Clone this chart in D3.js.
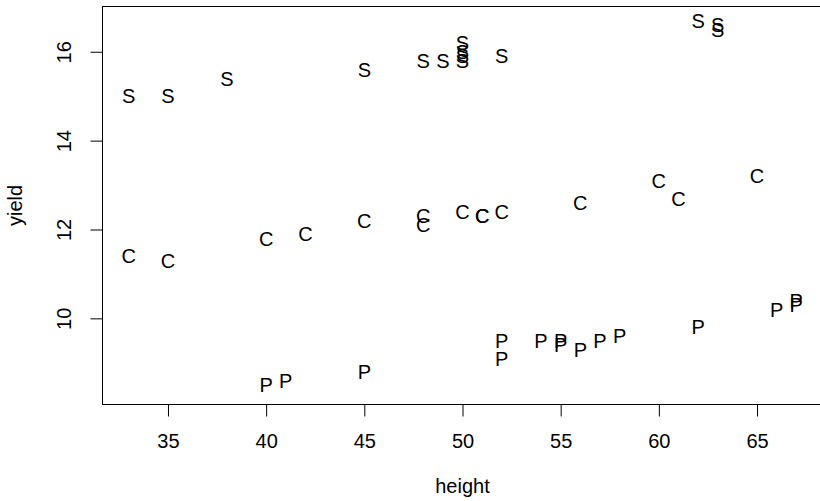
<!DOCTYPE html>
<html>
<head>
<meta charset="utf-8">
<script src="https://cdn.jsdelivr.net/npm/d3@7"></script>
<style>
  html, body { margin: 0; padding: 0; background: #fff; }
  svg { display: block; font-family: "Liberation Sans", Arial, Helvetica, sans-serif; }
</style>
</head>
<body>
<svg id="chart" width="820" height="501"></svg>
<script>
// Plant height vs yield, one letter per plot: S, C and P varieties
const sHeight = [33, 35, 38, 45, 48, 49, 50, 50, 50, 50, 52, 62, 63, 63];
const sYield  = [15.0, 15.0, 15.4, 15.6, 15.8, 15.8, 16.2, 16.0, 15.9, 15.8, 15.9, 16.7, 16.6, 16.5];

const cHeight = [33, 35, 40, 42, 45, 48, 48, 50, 51, 51, 52, 56, 60, 61, 65];
const cYield  = [11.4, 11.3, 11.8, 11.9, 12.2, 12.3, 12.1, 12.4, 12.3, 12.3, 12.4, 12.6, 13.1, 12.7, 13.2];

const pHeight = [40, 41, 45, 52, 52, 54, 55, 55, 56, 57, 58, 62, 66, 67, 67];
const pYield  = [8.5, 8.6, 8.8, 9.5, 9.1, 9.5, 9.5, 9.4, 9.3, 9.5, 9.6, 9.8, 10.2, 10.4, 10.3];

const groupLabels = ["S", "C", "P"];
const xTicks = [35, 40, 45, 50, 55, 60, 65];
const yTicks = [10, 12, 14, 16];
const xTitle = "height";
const yTitle = "yield";

// axis limits
const xLim = [31.64, 68.36];
const yLim = [8.05, 17.03];

const plot = { left: 102, right: 823, top: 6, bottom: 405 };
const fontSize = 20;

const svg = d3.select("#chart");

const x = d3.scaleLinear().domain(xLim).range([plot.left, plot.right]);
const y = d3.scaleLinear().domain(yLim).range([plot.bottom, plot.top]);

const groups = [
  { label: groupLabels[0], h: sHeight, v: sYield },
  { label: groupLabels[1], h: cHeight, v: cYield },
  { label: groupLabels[2], h: pHeight, v: pYield }
];

const points = groups.flatMap(g => g.h.map((h, i) => ({ label: g.label, h, v: g.v[i] })));

// letters as plotting symbols, centred on the point
svg.append("g")
  .selectAll("text")
  .data(points)
  .join("text")
  .attr("x", d => x(d.h))
  .attr("y", d => y(d.v))
  .attr("dy", "0.358em")
  .attr("text-anchor", "middle")
  .attr("font-size", fontSize)
  .attr("fill", "#000")
  .text(d => d.label);

// bottom axis
const xAxis = svg.append("g")
  .attr("transform", `translate(0,${plot.bottom - 0.5})`)
  .call(d3.axisBottom(x).tickValues(xTicks).tickSize(12).tickSizeOuter(0).tickFormat(d3.format("d")));
xAxis.select(".domain").remove();
xAxis.selectAll(".tick line").attr("stroke", "#000").attr("stroke-width", 1);
xAxis.selectAll(".tick text")
  .attr("y", 43.5)
  .attr("dy", 0)
  .attr("font-size", fontSize)
  .attr("font-family", "Liberation Sans, Arial, sans-serif")
  .attr("fill", "#000");

// left axis, labels rotated parallel to the axis
const yAxis = svg.append("g")
  .attr("transform", `translate(${plot.left + 0.5},0)`)
  .call(d3.axisLeft(y).tickValues(yTicks).tickSize(12).tickSizeOuter(0).tickFormat(d3.format("d")));
yAxis.select(".domain").remove();
yAxis.selectAll(".tick line").attr("stroke", "#000").attr("stroke-width", 1);
yAxis.selectAll(".tick text")
  .attr("x", 0)
  .attr("dy", 0)
  .attr("text-anchor", "middle")
  .attr("transform", "translate(-31.5,0) rotate(-90)")
  .attr("font-size", fontSize)
  .attr("font-family", "Liberation Sans, Arial, sans-serif")
  .attr("fill", "#000");

// frame around the plotting region
svg.append("rect")
  .attr("x", plot.left + 0.5)
  .attr("y", plot.top + 0.5)
  .attr("width", plot.right - plot.left)
  .attr("height", plot.bottom - plot.top - 1)
  .attr("fill", "none")
  .attr("stroke", "#000")
  .attr("stroke-width", 1);

// axis titles
svg.append("text")
  .attr("x", (plot.left + plot.right) / 2)
  .attr("y", 493)
  .attr("text-anchor", "middle")
  .attr("font-size", fontSize)
  .attr("fill", "#000")
  .text(xTitle);

svg.append("text")
  .attr("transform", `translate(22,${(plot.top + plot.bottom) / 2}) rotate(-90)`)
  .attr("text-anchor", "middle")
  .attr("font-size", fontSize)
  .attr("fill", "#000")
  .text(yTitle);
</script>
</body>
</html>
